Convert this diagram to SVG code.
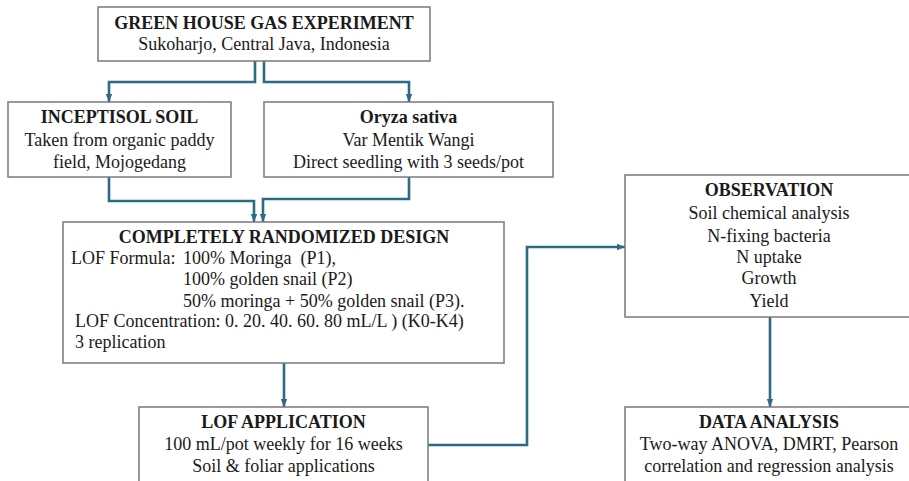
<svg xmlns="http://www.w3.org/2000/svg" width="909" height="481" viewBox="0 0 909 481" font-family="'Liberation Serif', 'DejaVu Serif', serif">
<style>
.box{fill:#fff;stroke:#7a7a7a;stroke-width:1.5}
text{font-family:'Liberation Serif','DejaVu Serif',serif;font-size:18px;fill:#1a1a1a}
.c{text-anchor:middle}
.b{font-weight:bold}
.con{fill:none;stroke:#2c6a86;stroke-width:2.6;marker-end:url(#ah)}
</style>
<defs>
<marker id="ah" markerUnits="userSpaceOnUse" markerWidth="8" markerHeight="8" viewBox="0 0 8 8" refX="8" refY="4" orient="auto">
<path d="M0,0.8 L8,4 L0,7.2 Z" fill="#2c6a86"/>
</marker>
</defs>
<rect width="909" height="481" fill="#fff"/>
<g id="connectors">
<path class="con" d="M255,61 V82 H109 V102"/>
<path class="con" d="M264,61 V82 H409 V102"/>
<path class="con" d="M109,177 V201 H254 V222"/>
<path class="con" d="M409,177 V199 H263 V222"/>
<path class="con" d="M284,363 V407"/>
<path class="con" d="M428,445 H527 V247 H625"/>
<path class="con" d="M770,317 V407"/>
</g>
<g id="greenhouse">
<rect class="box" x="98" y="7" width="332" height="54"/>
<text class="c b" x="264" y="29">GREEN HOUSE GAS EXPERIMENT</text>
<text class="c" x="264" y="50">Sukoharjo, Central Java, Indonesia</text>
</g>
<g id="inceptisol">
<rect class="box" x="8" y="102" width="223" height="75"/>
<text class="c b" x="119.5" y="123">INCEPTISOL SOIL</text>
<text class="c" x="119.5" y="146">Taken from organic paddy</text>
<text class="c" x="119.5" y="168">field, Mojogedang</text>
</g>
<g id="oryza">
<rect class="box" x="264" y="102" width="289" height="75"/>
<text class="c b" x="408.5" y="123">Oryza sativa</text>
<text class="c" x="408.5" y="146">Var Mentik Wangi</text>
<text class="c" x="408.5" y="168">Direct seedling with 3 seeds/pot</text>
</g>
<g id="crd">
<rect class="box" x="63" y="222" width="441" height="141"/>
<text class="c b" x="284" y="243">COMPLETELY RANDOMIZED DESIGN</text>
<text x="71" y="264">LOF Formula:</text>
<text x="183" y="264" xml:space="preserve">100% Moringa  (P1),</text>
<text x="183" y="285">100% golden snail (P2)</text>
<text x="183" y="307">50% moringa + 50% golden snail (P3).</text>
<text x="75" y="327">LOF Concentration: 0. 20. 40. 60. 80 mL/L ) (K0-K4)</text>
<text x="75" y="348">3 replication</text>
</g>
<g id="lofapp">
<rect class="box" x="139" y="407" width="289" height="90"/>
<text class="c b" x="283.5" y="428">LOF APPLICATION</text>
<text class="c" x="283.5" y="450">100 mL/pot weekly for 16 weeks</text>
<text class="c" x="283.5" y="472">Soil &amp; foliar applications</text>
</g>
<g id="observation">
<rect class="box" x="625" y="175" width="288" height="142"/>
<text class="c b" x="769" y="196">OBSERVATION</text>
<text class="c" x="769" y="219">Soil chemical analysis</text>
<text class="c" x="769" y="242">N-fixing bacteria</text>
<text class="c" x="769" y="263">N uptake</text>
<text class="c" x="769" y="284">Growth</text>
<text class="c" x="769" y="307">Yield</text>
</g>
<g id="dataanalysis">
<rect class="box" x="625" y="407" width="288" height="90"/>
<text class="c b" x="769" y="428">DATA ANALYSIS</text>
<text class="c" x="769" y="450">Two-way ANOVA, DMRT, Pearson</text>
<text class="c" x="769" y="472">correlation and regression analysis</text>
</g>
</svg>
